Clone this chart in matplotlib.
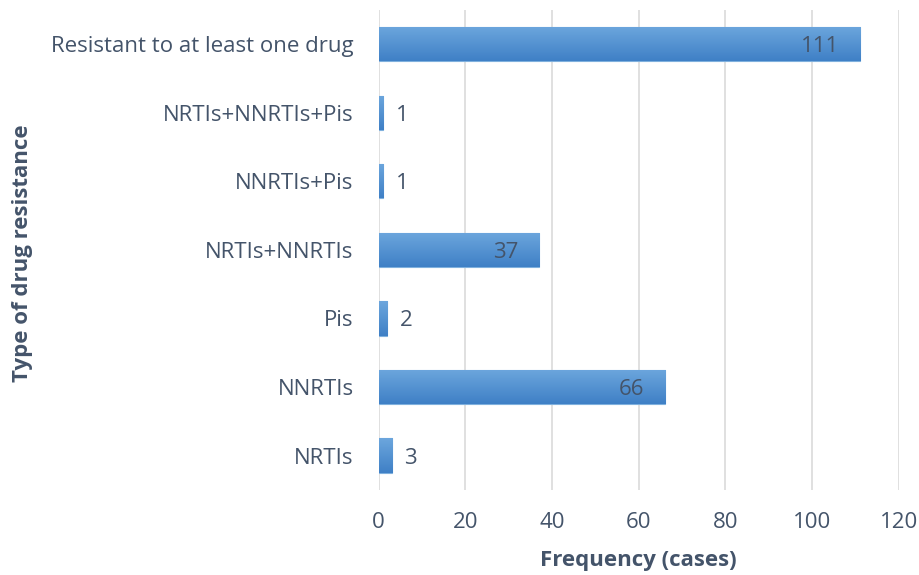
import numpy as np
import matplotlib
matplotlib.use("Agg")
import matplotlib.pyplot as plt

# data
categories = ["NRTIs", "NNRTIs", "Pis", "NRTIs+NNRTIs", "NNRTIs+Pis",
              "NRTIs+NNRTIs+Pis", "Resistant to at least one drug"]
cases = [3, 66, 2, 37, 1, 1, 111]

txt_color = "#44546A"
plt.rcParams["font.family"] = ["Open Sans", "DejaVu Sans"]

fig = plt.figure(figsize=(9.19, 5.75), dpi=100)
ax = fig.add_axes([0.412, 0.148, 0.566, 0.835])

y = np.arange(len(categories))
bars = ax.barh(y, cases, height=0.5, color="#5B9BD5", edgecolor="#7FB0DD",
               linewidth=0.8, zorder=2)

# vertical gradient in each bar (light top, darker bottom)
grad = np.linspace(0, 1, 64).reshape(-1, 1)
cmap = matplotlib.colors.LinearSegmentedColormap.from_list("g", ["#3F80C6", "#6CA6DD"])
for b in bars:
    x0, y0, w, h = b.get_x(), b.get_y(), b.get_width(), b.get_height()
    im = ax.imshow(grad, cmap=cmap, aspect="auto", origin="lower",
                   extent=[x0, x0 + w, y0, y0 + h], zorder=2.5)
    im.set_clip_path(b)

for b, v in zip(bars, cases):
    yc = b.get_y() + b.get_height() / 2
    if v > 10:
        ax.annotate(str(v), (v, yc), xytext=(-15, 0), textcoords="offset points",
                    ha="right", va="center_baseline", fontsize=16, color=txt_color, zorder=3)
    else:
        ax.annotate(str(v), (v, yc), xytext=(9, 0), textcoords="offset points",
                    ha="left", va="center_baseline", fontsize=16, color=txt_color, zorder=3)

ax.set_xlim(0, 120)
ax.set_ylim(-0.5, len(categories) - 0.5)
ax.set_xticks(np.arange(0, 121, 20))
ax.set_yticks(y)
ax.set_yticklabels(categories)
ax.tick_params(axis="both", length=0, labelsize=16, colors=txt_color)
ax.tick_params(axis="x", pad=16)
ax.tick_params(axis="y", pad=18)
ax.grid(axis="x", color="#DDDDDD", linewidth=1.3, zorder=0)
ax.set_axisbelow(True)
for s in ax.spines.values():
    s.set_visible(False)

ax.set_xlabel("Frequency (cases)", fontsize=16, fontweight="bold", color=txt_color, labelpad=12)
fig.text(0.024, 0.56, "Type of drug resistance", rotation=90, fontsize=16,
         fontweight="bold", color=txt_color, ha="center", va="center")

fig.savefig("out.png", dpi=100)
